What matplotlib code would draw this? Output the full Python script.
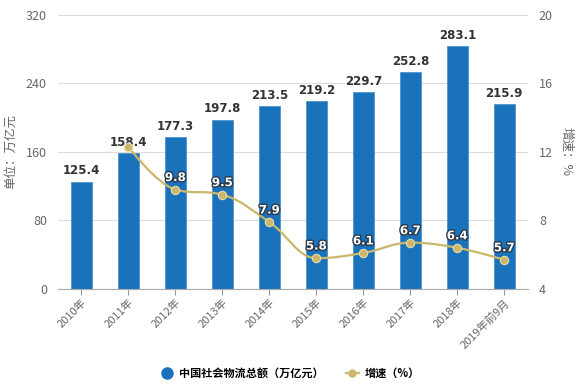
import matplotlib
matplotlib.use('Agg')
import matplotlib.pyplot as plt
import matplotlib.patheffects as pe
from matplotlib.path import Path
from matplotlib.patches import PathPatch
from matplotlib.lines import Line2D
import numpy as np

plt.rcParams['font.family'] = ['Noto Sans CJK SC', 'DejaVu Sans']

# data
years = ['2010年', '2011年', '2012年', '2013年', '2014年', '2015年',
         '2016年', '2017年', '2018年', '2019年前9月']
total = [125.4, 158.4, 177.3, 197.8, 213.5, 219.2, 229.7, 252.8, 283.1, 215.9]
# growth starts at 2011
growth = [12.3, 9.8, 9.5, 7.9, 5.8, 6.1, 6.7, 6.4, 5.7]
growth_labels = ['', '9.8', '9.5', '7.9', '5.8', '6.1', '6.7', '6.4', '5.7']

bar_color = '#1a72bb'
line_color = '#cbb76a'
grey = '#666666'


def spline_path(xs, ys, smoothing=1.5):
    ''' smooth path through the points, same idea as a highcharts spline '''
    n = len(xs)
    denom = smoothing + 1
    left = [(xs[0], ys[0])] * n
    right = [(xs[0], ys[0])] * n
    for i in range(n):
        x, y = xs[i], ys[i]
        if i == 0 or i == n - 1:
            left[i] = (x, y)
            right[i] = (x, y)
            continue
        lx = (smoothing * x + xs[i - 1]) / denom
        ly = (smoothing * y + ys[i - 1]) / denom
        rx = (smoothing * x + xs[i + 1]) / denom
        ry = (smoothing * y + ys[i + 1]) / denom
        corr = (ry - ly) * (rx - x) / (rx - lx) + y - ry
        ly += corr
        ry += corr
        # no overshoot
        if ly > max(ys[i - 1], y):
            ly = max(ys[i - 1], y); ry = 2 * y - ly
        elif ly < min(ys[i - 1], y):
            ly = min(ys[i - 1], y); ry = 2 * y - ly
        if ry > max(ys[i + 1], y):
            ry = max(ys[i + 1], y); ly = 2 * y - ry
        elif ry < min(ys[i + 1], y):
            ry = min(ys[i + 1], y); ly = 2 * y - ry
        left[i] = (lx, ly)
        right[i] = (rx, ry)
    verts = [(xs[0], ys[0])]
    codes = [Path.MOVETO]
    for i in range(1, n):
        verts += [right[i - 1], left[i], (xs[i], ys[i])]
        codes += [Path.CURVE4] * 3
    return Path(verts, codes)


fig = plt.figure(figsize=(5.8, 3.91), dpi=100)
ax = fig.add_axes([0.1, 0.261, 0.81, 0.701])
x = np.arange(len(years))

ax.bar(x, total, width=0.45, color=bar_color, edgecolor='#4d95d0', linewidth=0.6, zorder=2)
for xi, v in zip(x, total):
    ax.annotate('{:.1f}'.format(v), (xi, v), xytext=(0, 3), textcoords='offset points',
                ha='center', va='bottom', fontsize=8.5, fontweight='bold', color='#333333',
                family=['DejaVu Sans'])

ax.set_ylim(0, 320)
ax.set_yticks([0, 80, 160, 240, 320])
ax.set_xlim(-0.5, 9.5)
ax.set_xticks(x)
ax.set_xticklabels(years, rotation=45, ha='right', rotation_mode='anchor', fontsize=8, color=grey)
ax.tick_params(axis='x', length=4, color='#999999', pad=2)
ax.tick_params(axis='y', length=0, labelsize=9, labelcolor=grey, pad=8)
ax.grid(axis='y', color='#dddddd', linewidth=0.8, zorder=0)
ax.set_axisbelow(True)
for s in ['top', 'right', 'left']:
    ax.spines[s].set_visible(False)
ax.spines['bottom'].set_color('#aaaaaa')
ax.set_ylabel('单位：万亿元', fontsize=9, color=grey, labelpad=6)

ax2 = ax.twinx()
ax2.set_ylim(4, 20)
ax2.set_yticks([4, 8, 12, 16, 20])
ax2.tick_params(axis='y', length=0, labelsize=9, labelcolor=grey, pad=8)
for s in ['top', 'right', 'left', 'bottom']:
    ax2.spines[s].set_visible(False)
ax2.set_ylabel('增速：%', fontsize=9, color=grey, rotation=-90, labelpad=14)

gx = x[1:]
ax2.add_patch(PathPatch(spline_path(list(gx), growth), facecolor='none',
                        edgecolor=line_color, linewidth=1.6, zorder=3))
ax2.plot(gx, growth, linestyle='none', marker='o', markersize=6,
         color=line_color, markeredgecolor='#e8dcae', markeredgewidth=0.8, zorder=4)
for xi, v, lab in zip(gx, growth, growth_labels):
    if lab:
        ax2.annotate(lab, (xi, v), xytext=(0, 4), textcoords='offset points',
                     ha='center', va='bottom', fontsize=8.5, fontweight='bold', color='white',
                     family=['DejaVu Sans'],
                     path_effects=[pe.withStroke(linewidth=2, foreground='#2b3a4a')])

handles = [Line2D([], [], linestyle='none', marker='o', markersize=8, color=bar_color),
           Line2D([], [], color=line_color, linewidth=1.6, marker='o', markersize=5)]
fig.legend(handles, ['中国社会物流总额（万亿元）', '增速（%）'], loc='center',
           bbox_to_anchor=(0.5, 0.046), ncol=2, frameon=False, fontsize=8,
           handlelength=1.2, handletextpad=0.5, columnspacing=2.0,
           prop={'weight': 'bold', 'size': 8})

fig.savefig('out.png', dpi=100)
